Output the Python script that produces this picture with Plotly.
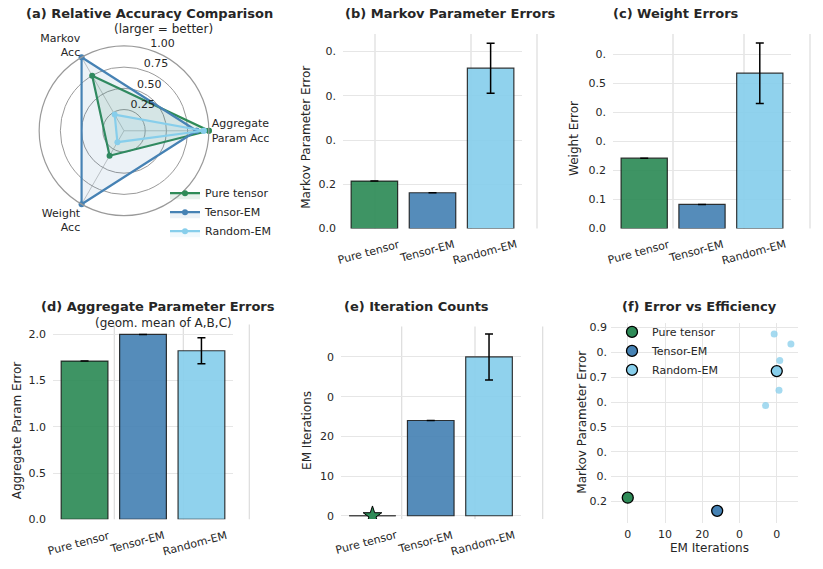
import plotly.graph_objects as go

# ---------------- data ----------------
methods = ["Pure tensor", "Tensor-EM", "Random-EM"]
colors = ["#2E8B57", "#4682B4", "#87CEEB"]
bar_fill = ["rgba(46,139,87,0.92)", "rgba(70,130,180,0.92)", "rgba(135,206,235,0.92)"]

markov_err = [0.215, 0.162, 0.725]
markov_std = [0.0, 0.0, 0.113]
weight_err = [0.242, 0.083, 0.534]
weight_std = [0.0, 0.0, 0.104]
agg_err = [1.711, 2.0, 1.823]
agg_std = [0.0, 0.0, 0.141]
em_iters = [0, 24, 40]
em_iters_std = [0, 0, 5.8]

radar_labels = ["Aggregate<br>Param Acc", "Markov<br>Acc", "Weight<br>Acc"]
radar_angles = [0, 120, 240]
acc_pure = [1.0, 0.75, 0.34]
acc_tensor_em = [0.855, 1.0, 1.0]
acc_random_em = [0.94, 0.22, 0.155]
radar_ticks = [0.25, 0.5, 0.75, 1.0]
radar_ticktext = ["0.25", "0.50", "0.75", "1.00"]
radar_label_angle = 72

# individual Random-EM runs (iterations, Markov error)
rand_runs_iter = [39.3, 43.8, 40.8, 40.6, 37.0]
rand_runs_err = [0.874, 0.834, 0.768, 0.648, 0.586]

# tick labels (as they appear)
b_tickvals = [0, 0.2, 0.4, 0.6, 0.8]
b_ticktext = ["0.0", "0.2", "0.", "0.", "0."]
c_tickvals = [0, 0.1, 0.2, 0.3, 0.4, 0.5, 0.6]
c_ticktext = ["0.0", "0.1", "0.2", "0.", "0.", "0.5", "0."]
d_tickvals = [0, 0.5, 1.0, 1.5, 2.0]
d_ticktext = ["0.0", "0.5", "1.0", "1.5", "2.0"]
e_tickvals = [0, 10, 20, 30, 40]
e_ticktext = ["0", "10", "20", "0", "0"]
f_ytickvals = [0.2, 0.3, 0.4, 0.5, 0.6, 0.7, 0.8, 0.9]
f_yticktext = ["0.2", "0.", "0.", "0.5", "0.", "0.7", "0.", "0.9"]
f_xtickvals = [0, 10, 20, 30, 40]
f_xticktext = ["0", "10", "20", "0", "0"]

# ---------------- layout helpers ----------------
W, H = 823, 569
FONT = "DejaVu Sans"
TXT = "#262626"
GRID = "#e6e6e6"


def px(x):
    return x / W


def py(y):
    # small vertical calibration of pixel positions
    return 1 - ((y - 1) / 0.986) / H


fig = go.Figure()

# ---------------- (a) radar ----------------
for name, vals, col, fc in [
    ("Pure tensor", acc_pure, colors[0], "rgba(46,139,87,0.12)"),
    ("Tensor-EM", acc_tensor_em, colors[1], "rgba(70,130,180,0.10)"),
    ("Random-EM", acc_random_em, colors[2], "rgba(135,206,235,0.12)"),
]:
    fig.add_trace(go.Scatterpolar(
        r=vals + vals[:1], theta=radar_angles + radar_angles[:1],
        mode="lines+markers", name=name,
        line=dict(color=col, width=2.2), marker=dict(size=6, color=col),
        fill="toself", fillcolor=fc, legend="legend",
    ))
# radial tick labels
fig.add_trace(go.Scatterpolar(
    r=radar_ticks, theta=[radar_label_angle] * len(radar_ticks), mode="text",
    text=radar_ticktext, textposition="top right", showlegend=False, hoverinfo="skip",
    cliponaxis=False, textfont=dict(family=FONT, size=11, color=TXT)))

# ---------------- bar panels ----------------
xs = list(range(len(methods)))
panels = [
    ("x2", "y2", markov_err, markov_std),
    ("x3", "y3", weight_err, weight_std),
    ("x4", "y4", agg_err, agg_std),
    ("x5", "y5", em_iters, em_iters_std),
]
for xa, ya, vals, sd in panels:
    fig.add_trace(go.Bar(
        x=xs, y=vals, width=0.8, xaxis=xa, yaxis=ya, showlegend=False,
        marker=dict(color=bar_fill, line=dict(color="rgba(20,20,20,0.85)", width=1.2)),
        error_y=dict(type="data", array=sd, visible=True, color="black", thickness=1.5, width=4),
    ))

# zero-height pure tensor outline + star marker in (e)
fig.add_trace(go.Scatter(
    x=[xs[0] - 0.4, xs[0] + 0.4], y=[em_iters[0], em_iters[0]], mode="lines",
    line=dict(color="#444", width=1.2), xaxis="x5", yaxis="y5", showlegend=False,
    hoverinfo="skip"))
fig.add_trace(go.Scatter(
    x=[xs[0]], y=[em_iters[0]], mode="markers", xaxis="x5", yaxis="y5", showlegend=False,
    marker=dict(symbol="star", size=14, color=colors[0], line=dict(color="black", width=1))))

# ---------------- (f) scatter ----------------
fig.add_trace(go.Scatter(
    x=rand_runs_iter, y=rand_runs_err, mode="markers", xaxis="x6", yaxis="y6",
    showlegend=False, marker=dict(size=7, color="rgba(135,206,235,0.75)")))
for i, name in enumerate(methods):
    fig.add_trace(go.Scatter(
        x=[em_iters[i]], y=[markov_err[i]], mode="markers", name=name,
        xaxis="x6", yaxis="y6", legend="legend2",
        marker=dict(size=11, color=colors[i], line=dict(color="black", width=1.3))))

# ---------------- axes ----------------
tickfont = dict(family=FONT, size=11, color=TXT)


def bar_x(dom, anchor):
    return dict(domain=[px(dom[0]), px(dom[1])], range=[-0.54, 2.54], showticklabels=False,
                showgrid=False, zeroline=False, showline=False, anchor=anchor)


def bar_y(dom, rng, tv, tt, anchor):
    return dict(domain=[py(dom[1]), py(dom[0])], range=rng, tickvals=tv, ticktext=tt,
                tickfont=tickfont, showgrid=True, gridcolor=GRID, gridwidth=1,
                zeroline=False, showline=False, ticks="", ticklabelstandoff=6, anchor=anchor)


lay = dict(
    width=W, height=H, margin=dict(l=0, r=0, t=0, b=0),
    paper_bgcolor="white", plot_bgcolor="white",
    font=dict(family=FONT, color=TXT, size=11),
    polar=dict(
        domain=dict(x=[px(124 - 85), px(124 + 85)], y=[py(130 + 85), py(130 - 85)]),
        bgcolor="white",
        radialaxis=dict(range=[0, 1], tickvals=radar_ticks, showticklabels=False,
                        angle=radar_label_angle, showline=False, ticks="",
                        gridcolor="#9a9a9a", gridwidth=1.2),
        angularaxis=dict(tickmode="array", tickvals=radar_angles, ticktext=radar_labels,
                         rotation=0, direction="counterclockwise", thetaunit="degrees",
                         showline=True, linecolor="#9a9a9a", linewidth=1.2,
                         gridcolor="#c8c8c8", gridwidth=1, ticks="",
                         tickfont=dict(family=FONT, size=11, color=TXT)),
    ),
    xaxis2=bar_x((343, 522), "y2"), yaxis2=bar_y((33, 228), [0, 0.88], b_tickvals, b_ticktext, "x2"),
    xaxis3=bar_x((613, 791), "y3"), yaxis3=bar_y((33, 228), [0, 0.669], c_tickvals, c_ticktext, "x3"),
    xaxis4=bar_x((53, 233), "y4"), yaxis4=bar_y((324, 519.3), [0, 2.108], d_tickvals, d_ticktext, "x4"),
    xaxis5=bar_x((341, 520.5), "y5"), yaxis5=bar_y((326, 519), [-0.83, 47.7], e_tickvals, e_ticktext, "x5"),
    xaxis6=dict(domain=[px(611), px(798)], range=[-4.5, 45.7], tickvals=f_xtickvals,
                ticktext=f_xticktext, tickfont=tickfont, showgrid=True, gridcolor=GRID,
                zeroline=False, showline=False, ticks="", anchor="y6", ticklabelstandoff=3),
    yaxis6=dict(domain=[py(523), py(323)], range=[0.113, 0.917], tickvals=f_ytickvals,
                ticktext=f_yticktext, tickfont=tickfont, showgrid=True, gridcolor=GRID,
                zeroline=False, showline=False, ticks="", anchor="x6", ticklabelstandoff=3),
    legend=dict(x=px(165), y=py(178), xanchor="left", yanchor="top",
                bgcolor="rgba(255,255,255,0)", font=dict(family=FONT, size=11, color=TXT)),
    legend2=dict(x=px(612), y=py(317), xanchor="left", yanchor="top",
                 bgcolor="rgba(255,255,255,0)", font=dict(family=FONT, size=11, color=TXT)),
    showlegend=True,
)
fig.update_layout(**lay)

# ---------------- extra vertical grid lines ----------------
vlines = [
    ((375, 471, 537), (33, 228)),
    ((673, 744, 810), (33, 228)),
    ((114.3, 183.3, 249.3), (324, 519.3)),
    ((401.7, 475, 542.7), (326, 519)),
]
for xs_px, (y0, y1) in vlines:
    for xv in xs_px:
        fig.add_shape(type="line", xref="paper", yref="paper", x0=px(xv), x1=px(xv),
                      y0=py(y1), y1=py(y0), line=dict(color="#dcdcdc", width=1.2), layer="below")

# ---------------- annotations ----------------
ann = []


def title(text, x, y, size=13, bold=True):
    t = f"<b>{text}</b>" if bold else text
    ann.append(dict(text=t, x=px(x), y=py(y), xref="paper", yref="paper", showarrow=False,
                    xanchor="center", yanchor="middle", font=dict(family=FONT, size=size, color=TXT)))


title("(a) Relative Accuracy Comparison", 149, 13)
title("(larger = better)", 163.5, 28, size=12, bold=False)
title("(b) Markov Parameter Errors", 450, 13)
title("(c) Weight Errors", 676, 13)
title("(d) Aggregate Parameter Errors", 158, 306.5)
title("(geom. mean of A,B,C)", 163, 323, size=12, bold=False)
title("(e) Iteration Counts", 416, 306.5)
title("(f) Error vs Efficiency", 699.5, 306.5)


def vtitle(text, x, y):
    ann.append(dict(text=text, x=px(x), y=py(y), xref="paper", yref="paper", showarrow=False,
                    textangle=-90, xanchor="center", yanchor="middle",
                    font=dict(family=FONT, size=12, color=TXT)))


vtitle("Markov Parameter Error", 306, 137)
vtitle("Weight Error", 574.7, 137.5)
vtitle("Aggregate Param Error", 17, 430)
vtitle("EM Iterations", 307.7, 430)
vtitle("Markov Parameter Error", 582, 422.5)
ann.append(dict(text="EM Iterations", x=px(709), y=py(548.3), xref="paper", yref="paper",
                xanchor="center", yanchor="middle", showarrow=False,
                font=dict(family=FONT, size=12, color=TXT)))

for xa, bottom in [("x2", 228), ("x3", 228), ("x4", 519.3), ("x5", 519)]:
    for i, name in enumerate(methods):
        ann.append(dict(text=name, x=xs[i], xref=xa, y=py(bottom + 7), yref="paper",
                        showarrow=False, textangle=-15, xanchor="center", yanchor="top",
                        xshift=-6, font=dict(family=FONT, size=11, color=TXT)))

fig.update_layout(annotations=ann)

page_js = (
    "var h=document.documentElement,b=document.body;"
    "[h,b].forEach(function(e){e.style.margin='0';e.style.padding='0';"
    "e.style.overflow='hidden';e.style.height='569px';});"
    "var g=document.getElementById('{plot_id}');g.style.display='block';"
    "if(g.parentElement){g.parentElement.style.height='569px';g.parentElement.style.overflow='hidden';}"
)
fig.write_html("out.html", config={"displayModeBar": False}, post_script=page_js)
